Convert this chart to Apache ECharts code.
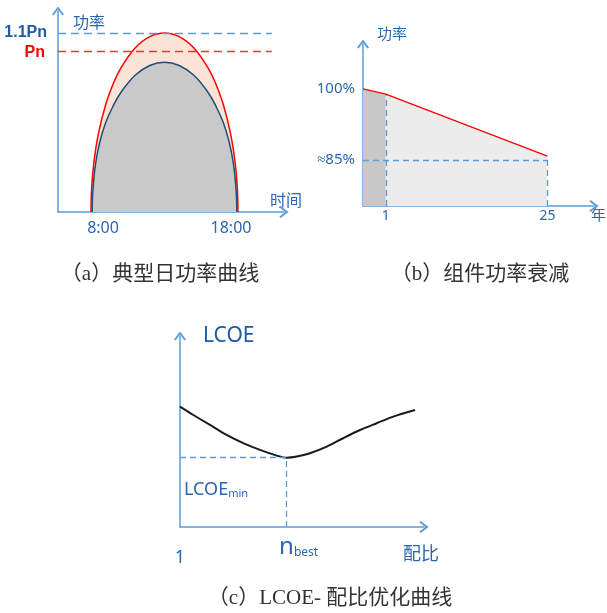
<!DOCTYPE html>
<html>
<head>
<meta charset="utf-8">
<script src="https://cdn.jsdelivr.net/npm/echarts@6/dist/echarts.min.js"></script>
<style>
html, body { margin: 0; padding: 0; background: #fff; }
#main { width: 607px; height: 613px; }
</style>
</head>
<body>
<div id="main"></div>
<script>
// (a) typical daily power curve
const dayHours = [8, 8.05, 8.2, 8.5, 9, 9.5, 10, 11, 12, 13, 14, 15, 16, 16.5, 17, 17.5, 17.8, 17.95, 18];
const dcPower = [0, 0.155, 0.308, 0.479, 0.66, 0.785, 0.88, 1.008, 1.078, 1.1, 1.078, 1.008, 0.88, 0.785, 0.66, 0.479, 0.308, 0.155, 0];
const acHours = [8.08, 8.12, 8.3, 8.6, 9, 9.5, 10, 11, 12, 13, 14, 15, 16, 16.5, 17, 17.4, 17.7, 17.88, 17.92];
const acPower = [0, 0.12, 0.29, 0.43, 0.55, 0.65, 0.73, 0.84, 0.9, 0.92, 0.9, 0.84, 0.73, 0.65, 0.55, 0.43, 0.29, 0.12, 0];
const hourTicks = [8, 18];
const powerTicks = [0.99, 1.1];

// (b) module power decay
const decayYears = [-2.386, 1, 25];
const decayPower = [100, 98.9, 85.8];
const yearTicks = [1, 25];
const decayTicks = [85, 100];

// (c) LCOE vs DC/AC ratio
const ratio = [1.0, 1.054, 1.121, 1.188, 1.255, 1.323, 1.39, 1.43, 1.471, 1.524, 1.592, 1.658, 1.726, 1.793, 1.86, 1.948];
const lcoe = [0.617, 0.574, 0.523, 0.472, 0.43, 0.395, 0.366, 0.355, 0.361, 0.378, 0.412, 0.455, 0.497, 0.532, 0.566, 0.6];
const nBest = 1.43;
const lcoeMin = 0.355;

const axisBlue = '#5b9bd5';
const textBlue = '#2a66b1';
const darkBlue = '#1f5aa6';
const arrow = 'path://M6,0 L12,8 L10.4,9.2 L6,3.2 L1.6,9.2 L0,8 Z';
const cjk = "'Noto Sans CJK SC', 'Noto Sans', sans-serif";

const zip = (xs, ys) => xs.map((x, i) => [x, ys[i]]);

const axisLine = {
    show: true,
    onZero: false,
    symbol: ['none', arrow],
    symbolSize: [12, 10],
    lineStyle: { color: axisBlue, width: 1.5 }
};
const dash = { color: axisBlue, width: 1.3, type: [6, 4] };

const baseAxis = (extra) => Object.assign({
    type: 'value',
    axisLine: axisLine,
    axisTick: { show: false },
    splitLine: { show: false }
}, extra);

const option = {
    animation: false,
    backgroundColor: '#fff',
    grid: [
        { left: 58, top: 11, width: 226, height: 201 },
        { left: 363, top: 44, width: 233, height: 162 },
        { left: 180, top: 336, width: 244, height: 191 }
    ],
    xAxis: [
        baseAxis({
            gridIndex: 0, min: 5.755, max: 21.13,
            name: '时间', nameGap: -14,
            nameTextStyle: { color: textBlue, fontSize: 16, fontFamily: cjk, align: 'left', verticalAlign: 'bottom', padding: [0, 0, 4, 0] },
            axisLabel: {
                customValues: hourTicks, margin: 8,
                formatter: v => v === 8 ? '{l|8:00}' : '{r|18:00}',
                rich: {
                    l: { color: textBlue, fontSize: 16, fontFamily: 'Noto Sans', padding: [0, 0, 0, 24] },
                    r: { color: textBlue, fontSize: 16, fontFamily: 'Noto Sans', padding: [0, 14, 0, 0] }
                }
            }
        }),
        baseAxis({
            gridIndex: 1, min: decayYears[0], max: 31.92,
            name: '年', nameGap: -3,
            nameTextStyle: { color: textBlue, fontSize: 15, fontFamily: cjk, align: 'left', verticalAlign: 'top', padding: [1, 0, 0, 0] },
            axisLabel: { customValues: yearTicks, margin: 3, color: textBlue, fontSize: 14, fontFamily: 'Noto Sans' }
        }),
        baseAxis({
            gridIndex: 2, min: 1, max: 1.984,
            name: '配比', nameGap: -21,
            nameTextStyle: { color: textBlue, fontSize: 18, fontFamily: cjk, align: 'left', verticalAlign: 'top', padding: [17, 0, 0, 0] },
            axisLabel: {
                customValues: [1, nBest], margin: 8,
                formatter: v => v === 1 ? '{o|1}' : '{n|n}{s|best}',
                rich: {
                    o: { color: textBlue, fontSize: 18, fontFamily: 'Noto Sans', padding: [14, 0, 0, 0] },
                    n: { color: textBlue, fontSize: 24, fontFamily: 'Noto Sans', padding: [0, 0, 0, 24], verticalAlign: 'bottom' },
                    s: { color: textBlue, fontSize: 12, fontFamily: 'Noto Sans', verticalAlign: 'bottom' }
                }
            }
        })
    ],
    yAxis: [
        baseAxis({
            gridIndex: 0, min: 0, max: 1.235,
            name: '功率', nameGap: -11,
            nameTextStyle: { color: textBlue, fontSize: 16, fontFamily: cjk, align: 'left', verticalAlign: 'middle', padding: [0, 0, 0, 15] },
            axisLabel: {
                customValues: powerTicks, margin: 11,
                formatter: v => v > 1.05 ? '{b|1.1Pn}' : '{r|Pn}',
                rich: {
                    b: { color: darkBlue, fontSize: 16, fontWeight: 'bold', fontFamily: 'Liberation Sans' },
                    r: { color: '#ff0000', fontSize: 16, fontWeight: 'bold', fontFamily: 'Liberation Sans', padding: [4, 2, 0, 0] }
                }
            }
        }),
        baseAxis({
            gridIndex: 1, min: 75.28, max: 109.5,
            name: '功率', nameGap: 3,
            nameTextStyle: { color: textBlue, fontSize: 15, fontFamily: cjk, align: 'left', verticalAlign: 'bottom', padding: [0, 0, 0, 14] },
            axisLabel: {
                customValues: decayTicks, margin: 8, color: textBlue, fontSize: 15, fontFamily: 'Noto Sans',
                padding: [0, 0, 6, 0],
                formatter: v => v === 85 ? '≈85%' : '100%'
            }
        }),
        baseAxis({
            gridIndex: 2, min: 0, max: 0.979,
            name: 'LCOE', nameGap: 0,
            nameTextStyle: { color: darkBlue, fontSize: 21, fontFamily: 'Noto Sans', align: 'left', verticalAlign: 'middle', padding: [0, 0, 0, 23] },
            axisLabel: { show: false }
        })
    ],
    series: [
        {
            type: 'line', xAxisIndex: 0, yAxisIndex: 0,
            data: zip(dayHours, dcPower),
            smooth: 0.4, symbol: 'none',
            lineStyle: { color: '#ff0000', width: 1.5 },
            areaStyle: { color: '#fbe3d5', opacity: 1 },
            markLine: {
                silent: true, symbol: ['none', 'none'], label: { show: false },
                data: [
                    [{ coord: [5.755, 1.1], lineStyle: { color: axisBlue, width: 1.3, type: [8, 5] } }, { coord: [20.3, 1.1] }],
                    [{ coord: [5.755, 0.99], lineStyle: { color: '#ff3030', width: 1.3, type: [8, 5] } }, { coord: [20.3, 0.99] }]
                ]
            }
        },
        {
            type: 'line', xAxisIndex: 0, yAxisIndex: 0,
            data: zip(acHours, acPower),
            smooth: 0.4, symbol: 'none',
            lineStyle: { color: '#1f4e79', width: 1.5 },
            areaStyle: { color: '#c9c9c9', opacity: 1 }
        },
        {
            type: 'line', xAxisIndex: 1, yAxisIndex: 1,
            data: zip(decayYears.slice(0, 2), decayPower.slice(0, 2)),
            symbol: 'none', lineStyle: { width: 0 },
            areaStyle: { color: '#c8c8c8', opacity: 1 }
        },
        {
            type: 'line', xAxisIndex: 1, yAxisIndex: 1,
            data: zip(decayYears.slice(1), decayPower.slice(1)),
            symbol: 'none', lineStyle: { width: 0 },
            areaStyle: { color: '#ececec', opacity: 1 },
            markLine: {
                silent: true, symbol: ['none', 'none'], label: { show: false }, lineStyle: dash,
                data: [
                    [{ coord: [yearTicks[0], 75.28] }, { coord: [yearTicks[0], decayPower[1]] }],
                    [{ coord: [yearTicks[1], 75.28] }, { coord: [yearTicks[1], decayPower[2]] }],
                    [{ coord: [decayYears[0], 85] }, { coord: [yearTicks[1], 85] }]
                ]
            }
        },
        {
            type: 'line', xAxisIndex: 1, yAxisIndex: 1,
            data: zip(decayYears, decayPower),
            symbol: 'none', lineStyle: { color: '#ff0000', width: 1.3 }, z: 5
        },
        {
            type: 'line', xAxisIndex: 2, yAxisIndex: 2,
            data: zip(ratio, lcoe),
            smooth: 0.3, symbol: 'none',
            lineStyle: { color: '#1a1a1a', width: 2 },
            markLine: {
                silent: true, symbol: ['none', 'none'], label: { show: false }, lineStyle: dash,
                data: [
                    [{ coord: [1, lcoeMin] }, { coord: [nBest, lcoeMin] }],
                    [{ coord: [nBest, 0] }, { coord: [nBest, lcoeMin] }]
                ]
            }
        }
    ],
    graphic: [
        {
            type: 'text', left: 184, top: 481,
            style: {
                text: '{a|LCOE}{m|min}',
                rich: {
                    a: { fill: textBlue, fontSize: 18, fontFamily: 'Noto Sans', verticalAlign: 'bottom' },
                    m: { fill: textBlue, fontSize: 11, fontFamily: 'Noto Sans', verticalAlign: 'bottom' }
                }
            }
        },
        {
            type: 'text', x: 160, y: 274,
            style: { text: '（a）典型日功率曲线', fill: '#333', font: "21px 'Liberation Serif', 'Noto Sans CJK SC'", align: 'center', verticalAlign: 'middle', textAlign: 'center', textVerticalAlign: 'middle' }
        },
        {
            type: 'text', x: 480, y: 274,
            style: { text: '（b）组件功率衰减', fill: '#333', font: "21px 'Liberation Serif', 'Noto Sans CJK SC'", align: 'center', verticalAlign: 'middle', textAlign: 'center', textVerticalAlign: 'middle' }
        },
        {
            type: 'text', x: 330, y: 598,
            style: { text: '（c）LCOE- 配比优化曲线', fill: '#333', font: "21px 'Liberation Serif', 'Noto Sans CJK SC'", align: 'center', verticalAlign: 'middle', textAlign: 'center', textVerticalAlign: 'middle' }
        }
    ]
};

const myChart = echarts.init(document.getElementById('main'));
myChart.setOption(option);
window.addEventListener('resize', () => {
    myChart.resize();
});
</script>
</body>
</html>
